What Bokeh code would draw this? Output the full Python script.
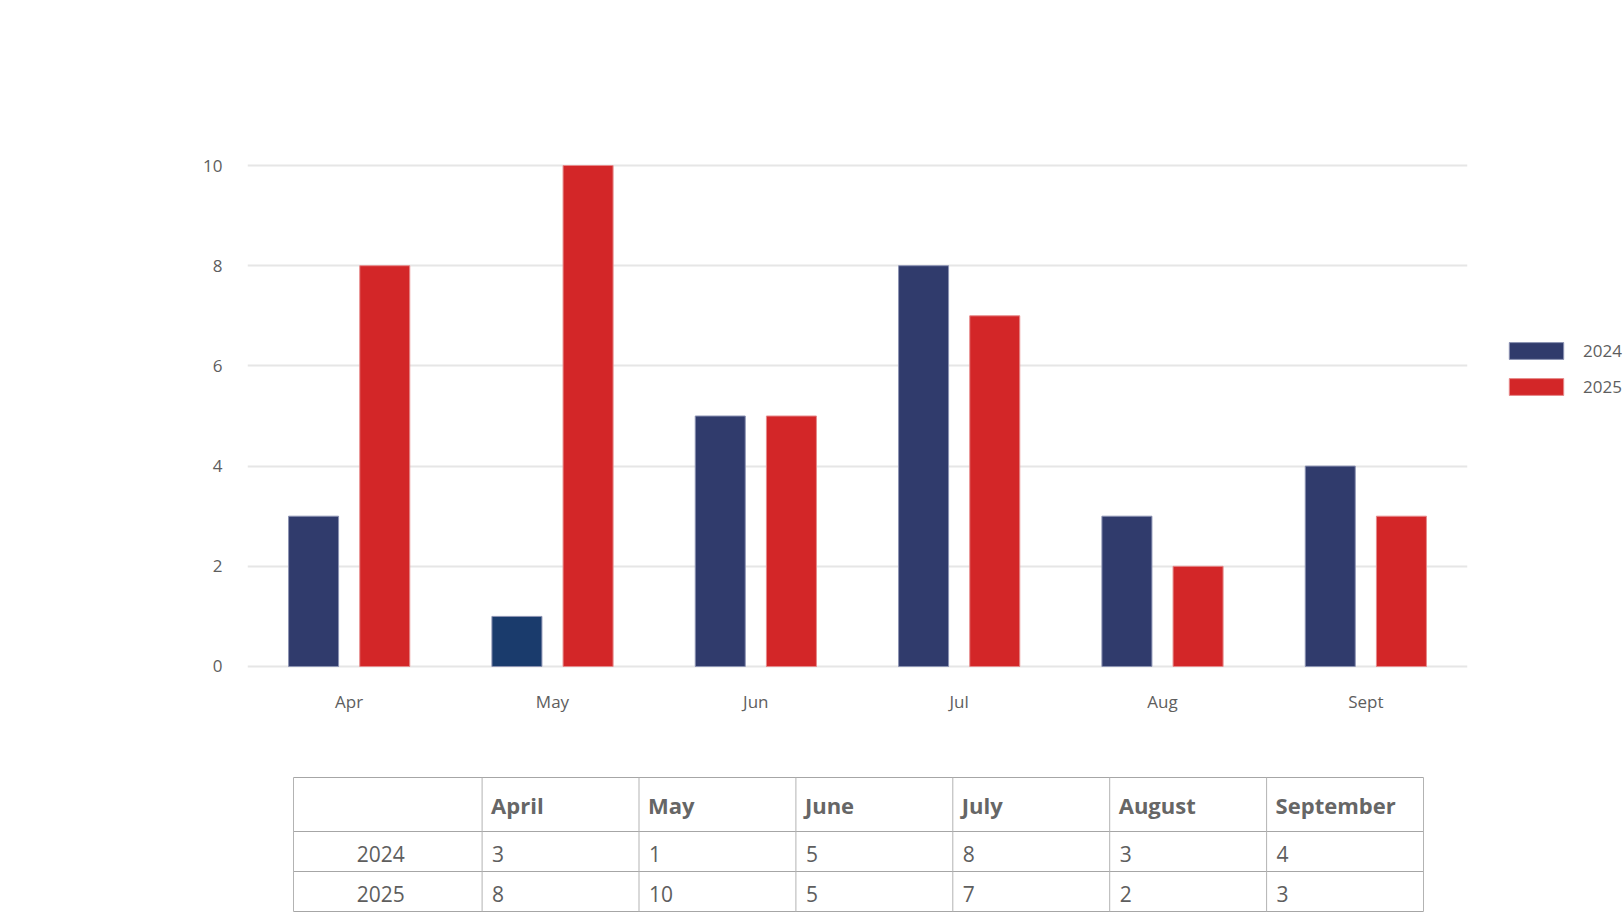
from bokeh.plotting import figure
from bokeh.models import FactorRange, Range1d, ColumnDataSource, Legend, LegendItem, FixedTicker
from bokeh.transform import dodge
from bokeh.layouts import column, row
from bokeh.embed import file_html
from bokeh.resources import INLINE
from bokeh.core.properties import value

# ---- data ----
months = ["Apr", "May", "Jun", "Jul", "Aug", "Sept"]
months_full = ["April", "May", "June", "July", "August", "September"]
series_names = ["2024", "2025"]
values_2024 = [3, 1, 5, 8, 3, 4]
values_2025 = [8, 10, 5, 7, 2, 3]
y_ticks = [0, 2, 4, 6, 8, 10]

# ---- styles ----
FONT = "Open Sans"
BLUE = "#303B6C"
BLUE_MAY = "#1A3B6C"
RED = "#D32628"
BLUE_EDGE = "#8C93B3"
RED_EDGE = "#E68A8B"
TXT = "#5E5E5E"
colors_2024 = [BLUE, BLUE_MAY, BLUE, BLUE, BLUE, BLUE]

W = 1624
H1 = 760
H2 = 152
WP = 1490                      # chart figure width, legend figure takes the rest
FL, FR, FT, FB = 247, 1467, 163, 668   # chart frame (page px)
Y0, Y1 = -0.04, 10.04

src = ColumnDataSource(dict(month=months, v24=values_2024, v25=values_2025, c24=colors_2024))

p = figure(x_range=FactorRange(*months, range_padding=0), y_range=Range1d(Y0, Y1),
           width=WP, height=H1, output_backend="svg", toolbar_location=None,
           min_border_left=FL, min_border_right=WP - FR, min_border_top=FT, min_border_bottom=H1 - FB)

r1 = p.vbar(x=dodge("month", -0.175, range=p.x_range), top="v24", bottom=0, width=0.246, source=src,
            fill_color="c24", line_color=BLUE_EDGE, line_width=1)
r2 = p.vbar(x=dodge("month", 0.175, range=p.x_range), top="v25", bottom=0, width=0.246, source=src,
            fill_color=RED, line_color=RED_EDGE, line_width=1)

p.outline_line_color = None
p.xgrid.grid_line_color = None
p.ygrid.grid_line_color = "#E6E6E6"
p.ygrid.grid_line_width = 2
p.ygrid.level = "underlay"
p.yaxis.ticker = FixedTicker(ticks=y_ticks)
for ax in (p.xaxis[0], p.yaxis[0]):
    ax.axis_line_color = None
    ax.major_tick_line_color = None
    ax.minor_tick_line_color = None
    ax.major_tick_out = 0
    ax.major_tick_in = 0
    ax.major_label_text_font = FONT
    ax.major_label_text_font_size = "17px"
    ax.major_label_text_color = TXT
p.yaxis.major_label_standoff = 25
p.xaxis.major_label_standoff = 21

# ---- legend (own small figure to the right of the chart) ----
q = figure(width=W - WP, height=H1, x_range=Range1d(0, 1), y_range=Range1d(0, 1),
           output_backend="svg", toolbar_location=None,
           min_border_left=0, min_border_right=0, min_border_top=FT, min_border_bottom=H1 - FB,
           x_axis_location=None, y_axis_location=None)
q.grid.visible = False
q.outline_line_color = None
q1 = q.vbar(x=[-5], top=[-9], bottom=[-10], width=0.1, fill_color=BLUE, line_color=BLUE_EDGE, line_width=1)
q2 = q.vbar(x=[-5], top=[-9], bottom=[-10], width=0.1, fill_color=RED, line_color=RED_EDGE, line_width=1)
q1.visible = False
q2.visible = False
legend = Legend(items=[LegendItem(label=series_names[0], renderers=[q1]),
                       LegendItem(label=series_names[1], renderers=[q2])],
                location=(12, 270), orientation="vertical", click_policy="none",
                glyph_width=68, glyph_height=21, label_height=21, spacing=13,
                padding=0, margin=0, label_standoff=13,
                border_line_alpha=0, background_fill_alpha=0,
                label_text_font=FONT, label_text_font_size="17px", label_text_color=TXT)
q.add_layout(legend, "center")

# ---- table ----
t = figure(width=W, height=H2, x_range=Range1d(FL, FR), y_range=Range1d(0, H2),
           output_backend="svg", toolbar_location=None,
           min_border_left=FL, min_border_right=W - FR, min_border_top=0, min_border_bottom=0,
           x_axis_location=None, y_axis_location=None)
t.grid.visible = False
t.outline_line_color = None

TL = 293.0
FIRST_W = 188.6
COL_W = 156.9
TOP = 135.0
HEAD_H = 54.0
ROW_H = 40.0
edges = [TL, TL + FIRST_W] + [TL + FIRST_W + COL_W * (i + 1) for i in range(len(months_full))]
right = edges[-1]
hy = [TOP, TOP - HEAD_H] + [TOP - HEAD_H - ROW_H * (i + 1) for i in range(len(series_names))]
bottom = hy[-1]

t.segment(x0=[TL] * len(hy), x1=[right] * len(hy), y0=hy, y1=hy, line_color="#A6A6A6", line_width=1)
t.segment(x0=edges, x1=edges, y0=[bottom] * len(edges), y1=[TOP] * len(edges), line_color="#B3B3B3", line_width=1)

head_y = TOP - HEAD_H / 2
t.text(x=[e + 9 for e in edges[1:-1]], y=[head_y] * len(months_full), text=months_full,
       text_font=value(FONT), text_font_size="22px", text_font_style="bold",
       text_color="#666666", text_align="left", text_baseline="middle")

row_y = [TOP - HEAD_H - ROW_H * (i + 0.5) - 2 for i in range(len(series_names))]
t.text(x=[(edges[0] + edges[1]) / 2 - 7] * len(series_names), y=row_y, text=series_names,
       text_font=value(FONT), text_font_size="21px", text_color=TXT,
       text_align="center", text_baseline="middle")
for vals, yy in zip([values_2024, values_2025], row_y):
    t.text(x=[e + 10 for e in edges[1:-1]], y=[yy] * len(vals), text=[str(v) for v in vals],
           text_font=value(FONT), text_font_size="21px", text_color=TXT,
           text_align="left", text_baseline="middle")

layout = column(row(p, q, spacing=0), t, spacing=0)
open("out.html", "w").write(file_html(layout, INLINE))
